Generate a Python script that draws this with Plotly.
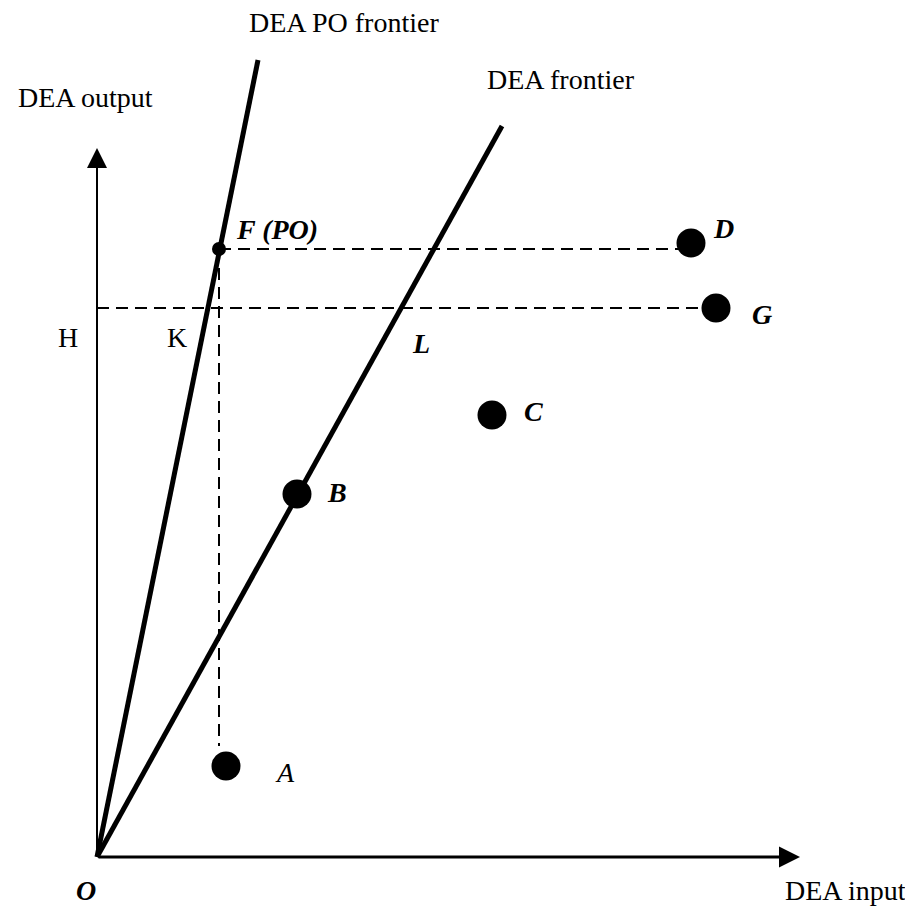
import plotly.graph_objects as go

# ---- data (units: arbitrary input/output units, origin O at 0,0) ----
dmu_names = ["A", "B", "C", "D", "G"]
dmu_input = [1.29, 2.00, 3.95, 5.94, 6.19]
dmu_output = [0.91, 3.63, 4.42, 6.14, 5.49]

f_point = [1.22, 6.08]            # F (PO)
po_frontier_end = [1.61, 7.97]    # DEA PO frontier ray end
dea_frontier_end = [4.05, 7.31]   # DEA frontier ray end
x_axis_end = 7.03
y_axis_end = 7.09

SERIF = "Liberation Serif, Times New Roman, serif"
FS = 28

fig = go.Figure()

# frontier rays
fig.add_trace(go.Scatter(x=[0, po_frontier_end[0]], y=[0, po_frontier_end[1]], mode="lines",
                         line=dict(color="black", width=5), hoverinfo="skip"))
fig.add_trace(go.Scatter(x=[0, dea_frontier_end[0]], y=[0, dea_frontier_end[1]], mode="lines",
                         line=dict(color="black", width=5), hoverinfo="skip"))

dash = dict(color="black", width=2, dash="12px,7px")
iA, iD, iG = dmu_names.index("A"), dmu_names.index("D"), dmu_names.index("G")
# F -> D horizontal
fig.add_trace(go.Scatter(x=[f_point[0], dmu_input[iD]], y=[f_point[1], f_point[1]], mode="lines",
                         line=dash, hoverinfo="skip"))
# H -> G horizontal
fig.add_trace(go.Scatter(x=[0, dmu_input[iG]], y=[dmu_output[iG], dmu_output[iG]], mode="lines",
                         line=dash, hoverinfo="skip"))
# F -> A vertical
fig.add_trace(go.Scatter(x=[f_point[0], f_point[0]], y=[f_point[1], dmu_output[iA] + 0.2], mode="lines",
                         line=dash, hoverinfo="skip"))

# DMU points
fig.add_trace(go.Scatter(x=dmu_input, y=dmu_output, mode="markers",
                         marker=dict(color="black", size=29), hoverinfo="skip"))
fig.add_trace(go.Scatter(x=[f_point[0]], y=[f_point[1]], mode="markers",
                         marker=dict(color="black", size=14), hoverinfo="skip"))

# axes with arrows
fig.add_annotation(x=x_axis_end, y=0, ax=0, ay=0, xref="x", yref="y", axref="x", ayref="y",
                   showarrow=True, arrowhead=2, arrowwidth=3, arrowsize=1.4, arrowcolor="black", text="")
fig.add_annotation(x=0, y=y_axis_end, ax=0, ay=0, xref="x", yref="y", axref="x", ayref="y",
                   showarrow=True, arrowhead=2, arrowwidth=2, arrowsize=2, arrowcolor="black", text="")

labels = [
    ("DEA PO frontier", 2.47, 8.35, ""),
    ("DEA output", -0.12, 7.60, ""),
    ("DEA frontier", 4.64, 7.78, ""),
    ("DEA input", 7.48, -0.33, ""),
    ("H", -0.29, 5.20, ""),
    ("K", 0.80, 5.20, ""),
    ("F (PO)", 1.80, 6.28, "bi"),
    ("D", 6.26, 6.29, "bi"),
    ("G", 6.65, 5.43, "bi"),
    ("L", 3.24, 5.14, "bi"),
    ("C", 4.36, 4.46, "bi"),
    ("B", 2.40, 3.65, "bi"),
    ("A", 1.88, 0.85, "i"),
    ("O", -0.11, -0.33, "bi"),
]
for txt, x, y, sty in labels:
    t = txt
    if sty == "bi":
        t = "<b><i>" + txt + "</i></b>"
    elif sty == "i":
        t = "<i>" + txt + "</i>"
    fig.add_annotation(x=x, y=y, xref="x", yref="y", text=t, showarrow=False,
                       xanchor="center", yanchor="middle",
                       font=dict(family=SERIF, size=FS, color="black"))

# ranges compensate for the page's 8px body margin
fig.update_layout(
    width=913, height=907, margin=dict(l=0, r=0, t=0, b=0),
    paper_bgcolor="white", plot_bgcolor="white", showlegend=False,
    xaxis=dict(visible=False, range=[-0.89, 8.24], fixedrange=True),
    yaxis=dict(visible=False, range=[-0.58, 8.49], fixedrange=True),
)

fig.write_html("out.html")
